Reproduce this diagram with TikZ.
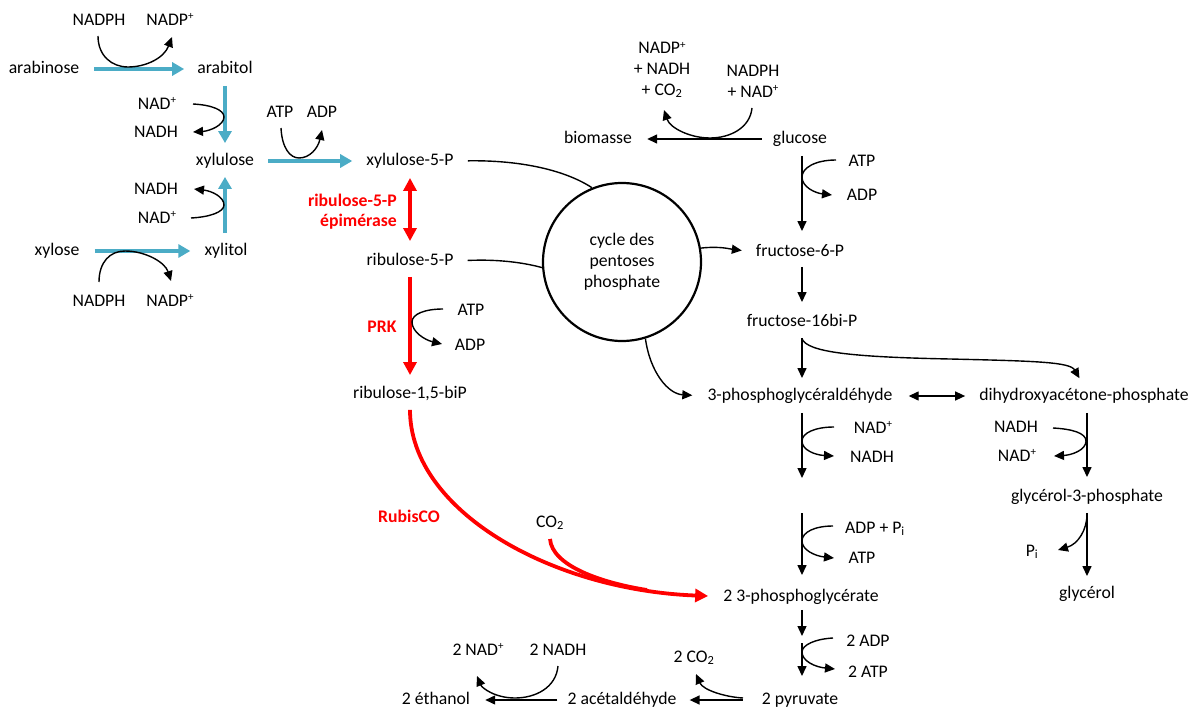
\documentclass[tikz,border=0pt]{standalone}
\usepackage{fontspec}
\setmainfont{Carlito}
\usetikzlibrary{arrows.meta,calc}
\definecolor{bl}{RGB}{75,172,198}
\newcommand\dfont{\fontsize{17.7}{21}\selectfont}
\newcommand\plusup{\raisebox{0.3em}{\fontsize{11}{11}\selectfont +}}
\begin{document}
\begin{tikzpicture}[x=1pt,y=-1pt,
  t/.style={font=\dfont, inner sep=2pt, text height=12pt, text depth=3.5pt},
  ml/.style={font=\dfont, inner sep=2pt, align=center},
  lab/.style={t, text=red, font=\dfont\bfseries},
  co/.style={line width=1.4pt},
  coa/.style={co, -{Triangle[length=10pt,width=9pt]}},
  arr/.style={line width=1.4pt, -{Triangle[length=10pt,width=9pt]}},
  darr/.style={line width=1.4pt, {Triangle[length=10pt,width=9pt]}-{Triangle[length=10pt,width=9pt]}},
  blu/.style={draw=bl, line width=4.5pt, -{Triangle[length=12pt,width=13pt]}},
  rd/.style={draw=red, line width=3.8pt, -{Triangle[length=13pt,width=13pt]}},
  drd/.style={draw=red, line width=3.8pt, {Triangle[length=13pt,width=13pt]}-{Triangle[length=13pt,width=13pt]}}]
\useasboundingbox (0,0) rectangle (1200,709);
\fill[white] (0,0) rectangle (1200,709);

% ---------- left: arabinose / xylose ----------
\node[t] (nadph1) at (99,21) {NADPH};
\node[t] (nadp1) at (170,21) {NADP\plusup};
\node[t] (arabinose) at (44,69) {arabinose};
\node[t] (arabitol) at (225,69) {arabitol};
\node[t] (nad2) at (157,105) {NAD\plusup};
\node[t] (nadh2) at (156,133) {NADH};
\node[t] (xylulose) at (225,161) {xylulose};
\node[t] (atp3) at (280,113) {ATP};
\node[t] (adp3) at (322,113) {ADP};
\node[t] (nadh4) at (156,190) {NADH};
\node[t] (nad4) at (157,219) {NAD\plusup};
\node[t] (xylose) at (57,251) {xylose};
\node[t] (xylitol) at (226,251) {xylitol};
\node[t] (nadph5) at (99,302) {NADPH};
\node[t] (nadp5) at (170,302) {NADP\plusup};

\draw[blu, shorten <=13pt, shorten >=11pt] (arabinose.east) -- (arabitol.west);
\draw[blu, shorten <=7pt, shorten >=8pt] (arabitol.south) -- (xylulose.north);
\draw[blu, shorten <=8pt, shorten >=6pt] ([xshift=-1pt]xylitol.north) -- (xylulose.south);
\draw[blu, shorten <=13pt, shorten >=12pt] (xylose.east) -- (xylitol.west);

\draw[coa] (98,36) .. controls (98,56) and (112,67) .. (128,67) .. controls (146,67) and (164,58) .. (172,37);
\draw[coa] (193,104) .. controls (212,105) and (224,110) .. (224,117) .. controls (224,125) and (210,131) .. (193,132);
\draw[coa] (191,218) .. controls (210,217) and (224,212) .. (224,205) .. controls (224,197) and (212,191) .. (194,189);
\draw[coa] (99,282) .. controls (99,262) and (110,251) .. (125,251) .. controls (145,251) and (165,262) .. (171,281);

% ---------- middle: pentoses ----------
\node[t] (x5p) at (410,161) {xylulose-5-P};
\node[lab, align=right, anchor=east, text height=, text depth=] (epi) at (399,212) {ribulose-5-P\\[-1pt]épimérase};
\node[t] (r5p) at (410,261) {ribulose-5-P};
\node[lab] (prk) at (382,328) {PRK};
\node[t] (atp6) at (471,311) {ATP};
\node[t] (adp6) at (470,346) {ADP};
\node[t] (r15bp) at (410,394) {ribulose-1,5-biP};
\node[lab] (rubisco) at (409,518) {RubisCO};
\node[t] (co2) at (550,523) {CO\textsubscript{2}};

\draw[blu, shorten <=12pt, shorten >=12pt] (xylulose.east) -- (x5p.west);
\draw[coa] (281,128) .. controls (282,148) and (290,158) .. (299,158) .. controls (310,158) and (318,148) .. (322,130);

\draw[drd, shorten <=7pt, shorten >=10pt] (x5p.south) -- (r5p.north);
\draw[rd, shorten <=6pt, shorten >=9pt] (r5p.south) -- (r15bp.north);
\draw[coa] (443,309) .. controls (425,309) and (412,314) .. (412,322) .. controls (412,332) and (425,340) .. (442,344);

\node[draw, circle, line width=2.2pt, minimum size=158pt, inner sep=0pt, align=center, font=\dfont] (ppp) at (622,262) {cycle des\\pentoses\\phosphate};

\draw[co, shorten <=12pt] (x5p.east) .. controls (520,160) and (565,170) .. (ppp.112);
\draw[co, shorten <=12pt] (r5p.east) .. controls (500,259) and (525,263) .. (ppp.184);

% ---------- right: glycolysis ----------
\node[t] (biomasse) at (598,139) {biomasse};
\node[t] (glucose) at (800,139) {glucose};
\node[ml] (nadpplus) at (662,70) {NADP\plusup\\+ NADH\\+ CO\textsubscript{2}};
\node[ml] (nadphnad) at (753,81) {NADPH\\+ NAD\plusup};
\node[t] (atp8) at (862,162) {ATP};
\node[t] (adp8) at (862,196) {ADP};
\node[t] (f6p) at (800,252) {fructose-6-P};
\node[t] (f16bp) at (802,322) {fructose-16bi-P};
\node[t] (gap) at (800,396) {3-phosphoglycéraldéhyde};
\node[t] (dhap) at (1084,396) {dihydroxyacétone-phosphate};
\node[t] (nad9) at (873,429) {NAD\plusup};
\node[t] (nadh9) at (872,458) {NADH};
\node[t] (nadh10) at (1016,428) {NADH};
\node[t] (nad10) at (1017,457) {NAD\plusup};
\node[t] (g3p) at (1087,497) {glycérol-3-phosphate};
\node[t] (pi) at (1032,552) {P\textsubscript{i}};
\node[t] (glycerol) at (1087,594) {glycérol};
\node[t] (adppi) at (875,529) {ADP + P\textsubscript{i}};
\node[t] (atp12) at (862,559) {ATP};
\node[t] (pga) at (801,597) {2 3-phosphoglycérate};
\node[t] (adp13) at (868,642) {2 ADP};
\node[t] (atp13) at (868,673) {2 ATP};
\node[t] (pyr) at (800,700) {2 pyruvate};
\node[t] (co2b) at (694,658) {2 CO\textsubscript{2}};
\node[t] (acet) at (622,700) {2 acétaldéhyde};
\node[t] (nad15) at (478,651) {2 NAD\plusup};
\node[t] (nadh15) at (558,651) {2 NADH};
\node[t] (eth) at (436,700) {2 éthanol};

\coordinate (bpgtop) at (802,478);
\coordinate (bpgbot) at (802,513);
\coordinate (peptop) at (802,636);
\coordinate (pepbot) at (802,643);

\draw[arr, shorten <=9pt, shorten >=13pt] (glucose.west) -- (biomasse.east);
\draw[coa] (752,108) .. controls (750,128) and (730,138) .. (710,138) .. controls (690,138) and (670,128) .. (664,110);

\draw[arr, shorten <=7pt, shorten >=11pt] ([xshift=2pt]glucose.south) -- ([xshift=2pt]f6p.north);
\draw[coa] (836,160) .. controls (815,160) and (802,168) .. (802,177) .. controls (802,187) and (815,193) .. (832,195);
\draw[arr, shorten <=5pt, shorten >=10pt] ([xshift=2pt]f6p.south) -- (f16bp.north);
\draw[arr, shorten <=6pt, shorten >=8pt] (f16bp.south) -- ([xshift=2pt]gap.north);
\draw[arr, shorten >=9pt] ($(f16bp.south)+(0,7)$) .. controls (808,352) and (850,357) .. (950,359) .. controls (1035,361) and (1070,362) .. (dhap.north);
\draw[darr, shorten <=14pt, shorten >=12pt] (gap.east) -- (dhap.west);

\draw[arr, shorten >=12pt] (ppp.10) .. controls (720,246) and (730,249) .. (f6p.west);
\draw[arr, shorten >=13pt] (ppp.-73) .. controls (650,372) and (668,394) .. (gap.west);

\draw[arr, shorten <=7pt] ([xshift=2pt]gap.south) -- (bpgtop);
\draw[coa] (834,427) .. controls (815,427) and (802,433) .. (802,441) .. controls (802,450) and (815,455) .. (834,456);
\draw[arr, shorten >=12pt] (bpgbot) -- ([xshift=1pt]pga.north);
\draw[coa] (833,526) .. controls (815,526) and (802,532) .. (802,541) .. controls (802,550) and (815,556) .. (834,558);

\draw[arr, shorten <=3pt] ([xshift=1pt]pga.south) -- (peptop);
\draw[arr, shorten >=14pt] (pepbot) -- ([xshift=2pt]pyr.north);
\draw[coa] (833,638) .. controls (815,639) and (802,645) .. (802,652) .. controls (802,661) and (815,667) .. (835,669);

\draw[arr, shorten <=7pt, shorten >=10pt] ([xshift=3pt]dhap.south) -- (g3p.north);
\draw[coa] (1053,428) .. controls (1072,429) and (1086,433) .. (1086,441) .. controls (1086,450) and (1072,455) .. (1054,456);
\draw[arr, shorten <=6pt, shorten >=8pt] (g3p.south) -- (glycerol.north);
\draw[coa] (1087,514) .. controls (1087,530) and (1078,544) .. (1058,550);

\draw[arr, shorten <=17pt, shorten >=11pt] (pyr.west) -- (acet.east);
\draw[coa] (743,698) .. controls (725,697) and (703,690) .. (696,674);
\draw[arr, shorten <=8pt, shorten >=13pt] (acet.west) -- (eth.east);
\draw[coa] (558,666) .. controls (556,688) and (535,698) .. (515,698) .. controls (495,698) and (482,688) .. (477,676);

% ---------- RubisCO ----------
\draw[rd] ($(r15bp.south)+(0,6)$) .. controls (410,510) and (550,590) .. ($(pga.west)+(-13,-1)$);
\draw[draw=red, line width=3.8pt] ($(co2.south)+(0,6)$) .. controls (552,566) and (602,583) .. (647,590);
\end{tikzpicture}
\end{document}
